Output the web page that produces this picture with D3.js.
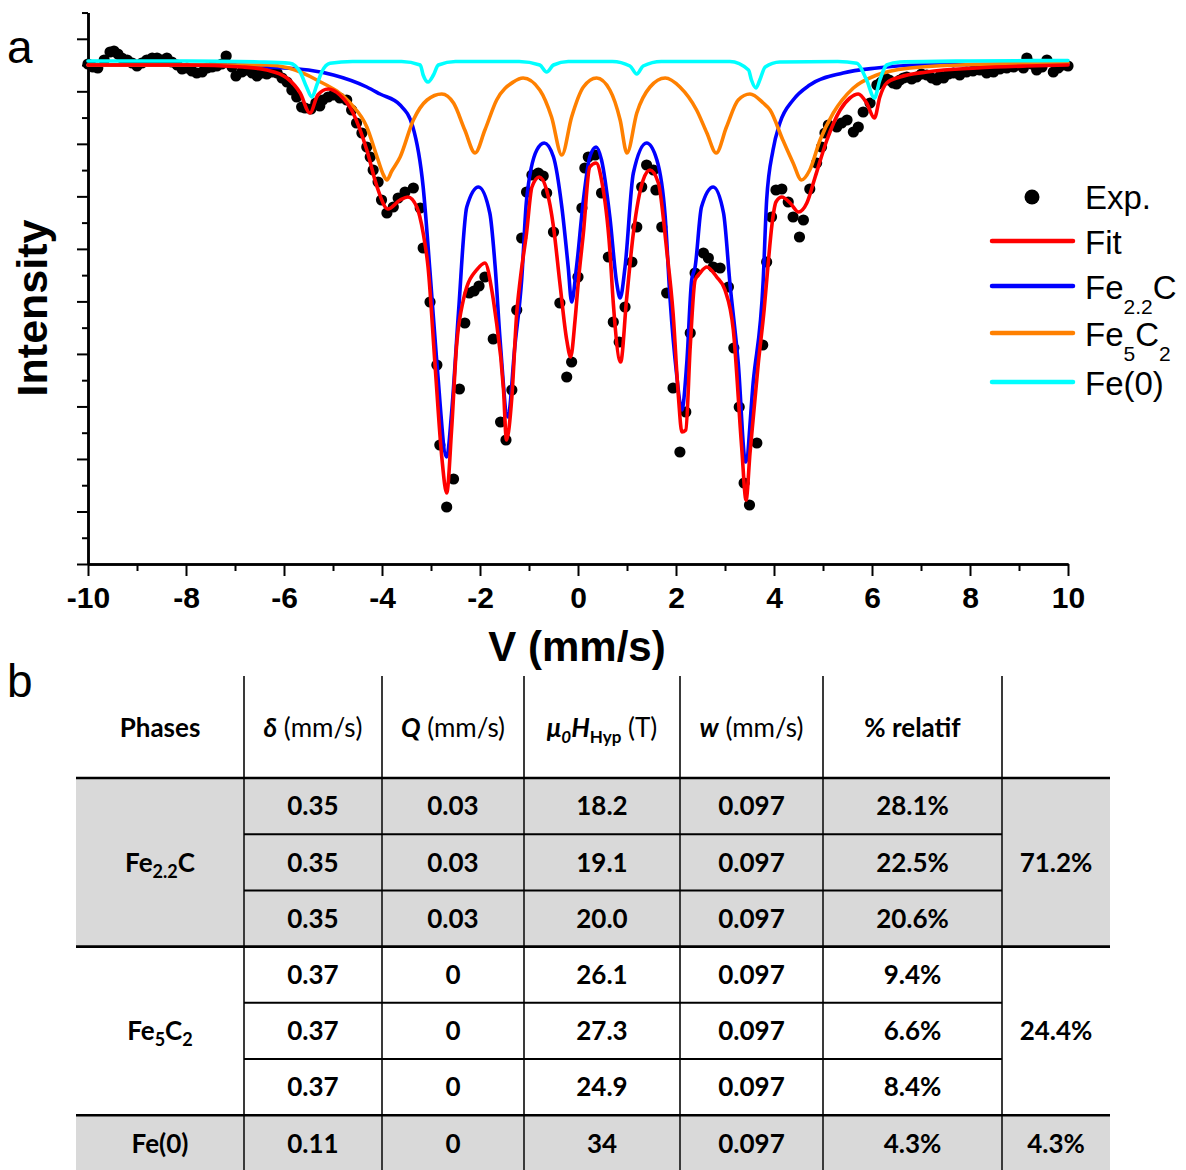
<!DOCTYPE html>
<html><head><meta charset="utf-8">
<script src="https://cdn.jsdelivr.net/npm/d3@7"></script>
<style>body{margin:0;background:#fff}svg{display:block}</style>
</head><body><svg id="c" width="1186" height="1170"></svg>
<script>
// ---------- DATA (velocity mm/s, intensity a.u.) ----------
const expData = [[-10.00,500],[-9.90,497],[-9.80,496],[-9.67,504],[-9.55,512],[-9.47,513],[-9.39,510],[-9.31,506],[-9.20,504],[-9.10,501],[-9.00,498],[-8.90,501],[-8.80,504],[-8.69,506],[-8.59,506],[-8.49,504],[-8.39,506],[-8.29,502],[-8.18,499],[-8.08,495],[-7.98,496],[-7.88,493],[-7.78,491],[-7.67,492],[-7.57,496],[-7.47,497],[-7.37,498],[-7.27,500],[-7.18,508],[-7.06,497],[-6.98,488],[-6.86,492],[-6.76,494],[-6.65,491],[-6.55,488],[-6.45,491],[-6.35,490],[-6.24,492],[-6.14,491],[-6.04,486],[-5.94,482],[-5.84,474],[-5.74,467],[-5.64,457],[-5.57,456],[-5.45,455],[-5.35,461],[-5.27,458],[-5.21,464],[-5.10,467],[-4.99,469],[-4.86,466],[-4.72,464],[-4.62,454],[-4.52,441],[-4.41,431],[-4.31,417],[-4.24,407],[-4.18,394],[-4.08,382],[-4.01,364],[-3.90,351],[-3.77,357],[-3.67,366],[-3.53,372],[-3.36,376],[-3.22,356],[-3.16,316],[-3.02,262],[-2.88,199],[-2.82,119],[-2.68,57],[-2.54,85],[-2.42,175],[-2.31,241],[-2.22,271],[-2.12,273],[-2.02,278],[-1.90,287],[-1.73,225],[-1.58,142],[-1.47,124],[-1.35,174],[-1.25,254],[-1.15,326],[-1.05,372],[-0.94,389],[-0.81,391],[-0.71,388],[-0.64,371],[-0.50,332],[-0.37,261],[-0.23,187],[-0.13,202],[0.00,287],[0.08,356],[0.14,396],[0.21,407],[0.35,409],[0.48,371],[0.62,307],[0.72,242],[0.84,222],[0.96,257],[1.10,302],[1.20,337],[1.30,377],[1.40,399],[1.54,394],[1.59,374],[1.71,337],[1.81,271],[1.94,176],[2.08,112],[2.20,152],[2.29,231],[2.39,291],[2.56,311],[2.66,306],[2.76,297],[2.90,296],[3.07,277],[3.18,216],[3.29,157],[3.39,81],[3.50,59],[3.65,121],[3.77,219],[3.85,302],[3.95,347],[4.04,374],[4.16,375],[4.29,362],[4.39,347],[4.52,327],[4.60,344],[4.73,375],[4.87,401],[4.97,417],[5.04,431],[5.11,439],[5.28,437],[5.38,441],[5.49,444],[5.62,432],[5.72,437],[5.82,452],[5.96,461],[6.10,479],[6.19,482],[6.27,486],[6.35,484],[6.43,481],[6.50,480],[6.57,484],[6.64,486],[6.71,487],[6.81,485],[6.91,487],[7.01,490],[7.12,489],[7.22,486],[7.32,484],[7.39,488],[7.46,486],[7.56,490],[7.66,491],[7.79,489],[7.93,492],[8.06,493],[8.20,494],[8.34,491],[8.48,492],[8.61,495],[8.75,496],[8.89,497],[9.02,499],[9.09,496],[9.16,506],[9.26,500],[9.36,494],[9.47,497],[9.57,504],[9.70,492],[9.80,496],[9.90,499],[10.00,498]];

const fitData = [[-10,499],[-8,499],[-6.84,497],[-6.35,494],[-5.94,486],[-5.67,471],[-5.47,451],[-5.31,469],[-5.10,475],[-4.86,469],[-4.59,451],[-4.31,414],[-4.10,377],[-3.88,355],[-3.63,364],[-3.47,367],[-3.29,357],[-3.16,331],[-3.06,297],[-2.92,201],[-2.78,107],[-2.68,71],[-2.58,134],[-2.48,217],[-2.34,264],[-2.27,277],[-2.07,294],[-1.90,301],[-1.76,274],[-1.69,251],[-1.52,174],[-1.46,124],[-1.35,167],[-1.25,251],[-1.18,284],[-1.05,331],[-0.94,377],[-0.79,387],[-0.64,374],[-0.50,337],[-0.37,281],[-0.23,224],[-0.15,207],[-0.06,244],[0.01,284],[0.11,331],[0.24,397],[0.37,401],[0.48,384],[0.65,314],[0.72,261],[0.87,202],[0.99,264],[1.13,331],[1.33,384],[1.47,394],[1.64,381],[1.81,314],[1.94,251],[2.05,167],[2.12,132],[2.20,134],[2.29,217],[2.39,284],[2.49,291],[2.63,297],[2.83,287],[3.00,274],[3.17,234],[3.34,117],[3.43,64],[3.51,111],[3.68,201],[3.80,255],[3.88,300],[3.96,340],[4.04,362],[4.16,367],[4.33,361],[4.50,352],[4.67,361],[4.84,387],[5.08,424],[5.35,454],[5.55,466],[5.72,470],[5.89,461],[6.05,446],[6.16,467],[6.30,481],[6.57,487],[7.12,492],[8.14,496],[9.16,498],[10,499]];

const fe22cData = [[-10,499],[-7,499],[-6.35,497],[-5.5,494],[-4.99,489],[-4.31,477],[-4.04,470],[-3.63,459],[-3.37,437],[-3.16,377],[-3.02,292],[-2.88,201],[-2.68,107],[-2.58,151],[-2.44,251],[-2.27,357],[-2.03,377],[-1.80,351],[-1.69,297],[-1.59,224],[-1.43,147],[-1.29,217],[-1.15,284],[-1.05,364],[-0.84,414],[-0.69,421],[-0.50,407],[-0.33,357],[-0.20,297],[-0.13,262],[-0.03,297],[0.11,364],[0.24,407],[0.37,417],[0.48,404],[0.65,347],[0.79,281],[0.86,266],[0.96,297],[1.13,391],[1.40,421],[1.61,404],[1.78,347],[1.88,264],[2.01,191],[2.12,154],[2.22,201],[2.32,284],[2.39,297],[2.52,357],[2.76,377],[2.97,351],[3.10,281],[3.27,201],[3.42,102],[3.58,184],[3.78,284],[3.85,364],[3.98,414],[4.12,441],[4.39,464],[4.73,479],[5.41,491],[6.10,496],[6.98,499],[10,500]];

const fe5c2Data = [[-10,499],[-7,499],[-6.35,499],[-5.90,496],[-5.33,484],[-4.65,461],[-4.31,437],[-4.10,407],[-3.96,388],[-3.90,384],[-3.80,393],[-3.63,407],[-3.36,444],[-3.08,464],[-2.78,470],[-2.54,461],[-2.31,434],[-2.10,411],[-1.90,434],[-1.66,464],[-1.32,482],[-1.12,486],[-0.78,474],[-0.54,447],[-0.33,409],[-0.13,447],[0.11,477],[0.38,486],[0.65,474],[0.86,444],[1.00,411],[1.20,451],[1.47,477],[1.78,486],[2.08,477],[2.42,454],[2.63,431],[2.82,411],[3.03,437],[3.27,464],[3.51,470],[3.78,461],[3.92,454],[4.18,424],[4.39,401],[4.56,384],[4.73,394],[4.94,424],[5.21,451],[5.62,476],[6.10,489],[6.78,496],[7.80,499],[10,501]];

const fe0Data = [[-10,503],[-8,503],[-6.5,502],[-5.88,500.7],[-5.67,492],[-5.54,477],[-5.43,467],[-5.33,479],[-5.23,492],[-5.06,500.7],[-4.6,502.5],[-3.6,502.5],[-3.22,499],[-3.16,489],[-3.06,482],[-2.95,489],[-2.85,499],[-2.5,502.5],[-1.2,502.5],[-0.78,499],[-0.64,492],[-0.50,499],[-0.2,502.5],[0.7,502.5],[1.06,498],[1.20,490],[1.33,498],[1.7,502.5],[3.1,502.5],[3.48,494],[3.54,484],[3.63,476],[3.71,484],[3.82,497],[4.12,502],[5.3,502.5],[5.69,500.7],[5.89,484],[6.05,466],[6.16,484],[6.30,499],[6.57,502],[8,503],[10,503.5]];

const xMajorTicks = [-10,-8,-6,-4,-2,0,2,4,6,8,10];
const xMinorTicks = [-9,-7,-5,-3,-1,1,3,5,7,9];

const legendLabels = ["Exp.","Fit","Fe2.2C","Fe5C2","Fe(0)"];
const seriesColors = {fit:"#ff0000", fe22c:"#0000ff", fe5c2:"#ff8000", fe0:"#00ffff"};

// table
const tablePhases = ["Fe2.2C","Fe5C2","Fe(0)"];
const tableDelta = ["0.35","0.35","0.35","0.37","0.37","0.37","0.11"];
const tableQ = ["0.03","0.03","0.03","0","0","0","0"];
const tableH = ["18.2","19.1","20.0","26.1","27.3","24.9","34"];
const tableW = ["0.097","0.097","0.097","0.097","0.097","0.097","0.097"];
const tableRel = ["28.1%","22.5%","20.6%","9.4%","6.6%","8.4%","4.3%"];
const tableTotal = ["71.2%","24.4%","4.3%"];

// ---------- DRAW ----------
const svg = d3.select("#c");
const AF = "'Liberation Sans', Arial, sans-serif";
const TF = "Lato, 'Open Sans', sans-serif";

const x = d3.scaleLinear().domain([-10,10]).range([88,1068]);
const y = d3.scaleLinear().domain([0,551.5]).range([564,12.5]);
const yStep = 26.26;
const yTicks = d3.range(0,22).map(k=>k*yStep);

// y axis
const gy = svg.append("g").attr("transform","translate(88,0)");
gy.call(d3.axisLeft(y).tickValues(yTicks.filter((d,i)=>i%2===1)).tickSize(6).tickSizeOuter(0).tickFormat(""));
gy.append("g").call(d3.axisLeft(y).tickValues(yTicks.filter((d,i)=>i%2===0)).tickSize(11).tickSizeOuter(0).tickFormat(""));
gy.selectAll("path.domain").attr("stroke","#000").attr("stroke-width",2.5);
gy.selectAll(".tick line").attr("stroke","#000").attr("stroke-width",2);

// x axis
const gx = svg.append("g").attr("transform","translate(0,564)");
gx.call(d3.axisBottom(x).tickValues(xMinorTicks).tickSize(7).tickSizeOuter(0).tickFormat(""));
const gx2 = gx.append("g").call(d3.axisBottom(x).tickValues(xMajorTicks).tickSize(12).tickSizeOuter(0).tickPadding(11).tickFormat(d=>String(d)));
gx.selectAll("path.domain").attr("stroke","#000").attr("stroke-width",2.5);
gx.selectAll(".tick line").attr("stroke","#000").attr("stroke-width",2);
gx2.selectAll("text").attr("font-family",AF).attr("font-weight","bold").attr("font-size",30).attr("fill","#000");

// data
const line = d3.line().x(d=>x(d[0])).y(d=>y(d[1])).curve(d3.curveMonotoneX);
svg.append("g").selectAll("circle").data(expData).join("circle")
  .attr("cx",d=>x(d[0])).attr("cy",d=>y(d[1])).attr("r",5.6).attr("fill","#000");
[[fe22cData,seriesColors.fe22c],[fe5c2Data,seriesColors.fe5c2],[fe0Data,seriesColors.fe0],[fitData,seriesColors.fit]].forEach(([d,c])=>{
  svg.append("path").datum(d).attr("d",line).attr("fill","none").attr("stroke",c)
    .attr("stroke-width",3.6).attr("stroke-linejoin","round").attr("stroke-linecap","round");
});

// axis titles
svg.append("text").attr("x",577).attr("y",661).attr("text-anchor","middle")
  .attr("font-family",AF).attr("font-weight","bold").attr("font-size",42).text("V (mm/s)");
svg.append("text").attr("transform","translate(47,308) rotate(-90)").attr("text-anchor","middle")
  .attr("font-family",AF).attr("font-weight","bold").attr("font-size",43).text("Intensity");
svg.append("text").attr("x",7).attr("y",63).attr("font-family",AF).attr("font-size",46).text("a");
svg.append("text").attr("x",7).attr("y",697).attr("font-family",AF).attr("font-size",46).text("b");

// legend
const lg = svg.append("g").attr("font-family",AF).attr("font-size",33).attr("fill","#000");
lg.append("circle").attr("cx",1032).attr("cy",197).attr("r",7.5).attr("fill","#000");
lg.append("text").attr("x",1085).attr("y",208.5).text(legendLabels[0]);
const legendRows = [[241,seriesColors.fit],[286,seriesColors.fe22c],[333,seriesColors.fe5c2],[382,seriesColors.fe0]];
legendRows.forEach(([ly,c])=>{
  lg.append("line").attr("x1",992).attr("x2",1073).attr("y1",ly).attr("y2",ly)
    .attr("stroke",c).attr("stroke-width",4.5).attr("stroke-linecap","round");
});
lg.append("text").attr("x",1085).attr("y",253.5).text(legendLabels[1]);
{ const t = lg.append("text").attr("x",1085).attr("y",298.5);
  t.append("tspan").text("Fe");
  t.append("tspan").attr("font-size",21).attr("dy",15).text("2.2");
  t.append("tspan").attr("dy",-15).text("C"); }
{ const t = lg.append("text").attr("x",1085).attr("y",345.5);
  t.append("tspan").text("Fe");
  t.append("tspan").attr("font-size",21).attr("dy",15).text("5");
  t.append("tspan").attr("dy",-15).text("C");
  t.append("tspan").attr("font-size",21).attr("dy",15).text("2"); }
lg.append("text").attr("x",1085).attr("y",394.5).text(legendLabels[4]);

// ---------- TABLE ----------
const colX = [76,244,382,524,680,823,1002,1110];
const headTop = 676, headBot = 778, rowH = 56.2;
const rowTop = i => headBot + i*rowH;
const tb = svg.append("g");
tb.append("rect").attr("x",colX[0]).attr("y",rowTop(0)).attr("width",colX[7]-colX[0]).attr("height",3*rowH).attr("fill","#d9d9d9");
tb.append("rect").attr("x",colX[0]).attr("y",rowTop(6)).attr("width",colX[7]-colX[0]).attr("height",rowH+5).attr("fill","#d9d9d9");
colX.slice(1,7).forEach(cx=>{
  tb.append("line").attr("x1",cx).attr("x2",cx).attr("y1",headTop).attr("y2",1172).attr("stroke","#3a3a3a").attr("stroke-width",2);
});
[headBot, rowTop(3), rowTop(6)].forEach(yy=>{
  tb.append("line").attr("x1",colX[0]).attr("x2",colX[7]).attr("y1",yy).attr("y2",yy).attr("stroke","#000").attr("stroke-width",2.6);
});
[1,2,4,5].forEach(i=>{
  tb.append("line").attr("x1",colX[1]).attr("x2",colX[6]).attr("y1",rowTop(i)).attr("y2",rowTop(i)).attr("stroke","#000").attr("stroke-width",2);
});
const FS = 26;
const cc = i => (colX[i]+colX[i+1])/2;
const tText = (cx, cy) => tb.append("text").attr("x",cx).attr("y",cy+FS*0.36).attr("text-anchor","middle")
  .attr("font-family",TF).attr("font-size",FS).attr("font-weight","bold").attr("fill","#000");
const hy = 728;
tText(cc(0),hy).text("Phases");
{ const t=tText(cc(1),hy); t.append("tspan").attr("font-style","italic").text("δ"); t.append("tspan").attr("font-weight","normal").text(" (mm/s)"); }
{ const t=tText(cc(2),hy); t.append("tspan").attr("font-style","italic").text("Q"); t.append("tspan").attr("font-weight","normal").text(" (mm/s)"); }
{ const t=tText(cc(3),hy); t.append("tspan").attr("font-style","italic").text("μ");
  t.append("tspan").attr("font-style","italic").attr("font-size",17).attr("dy",6).text("0");
  t.append("tspan").attr("font-style","italic").attr("dy",-6).text("H");
  t.append("tspan").attr("font-size",17).attr("dy",6).text("Hyp");
  t.append("tspan").attr("font-weight","normal").attr("dy",-6).text(" (T)"); }
{ const t=tText(cc(4),hy); t.append("tspan").attr("font-style","italic").text("w"); t.append("tspan").attr("font-weight","normal").text(" (mm/s)"); }
tText(cc(5),hy).text("% relatif");
const cols = [tableDelta,tableQ,tableH,tableW,tableRel];
for(let i=0;i<7;i++){
  const cy = rowTop(i)+rowH/2;
  cols.forEach((arr,j)=> tText(cc(j+1),cy).text(arr[i]));
}
const groupCenters = [rowTop(0)+1.5*rowH, rowTop(3)+1.5*rowH, rowTop(6)+rowH/2];
{ const t=tText(cc(0),groupCenters[0]); t.append("tspan").text("Fe"); t.append("tspan").attr("font-size",18).attr("dy",6).text("2.2"); t.append("tspan").attr("dy",-6).text("C"); }
{ const t=tText(cc(0),groupCenters[1]); t.append("tspan").text("Fe"); t.append("tspan").attr("font-size",18).attr("dy",6).text("5"); t.append("tspan").attr("dy",-6).text("C"); t.append("tspan").attr("font-size",18).attr("dy",6).text("2"); }
tText(cc(0),groupCenters[2]).text(tablePhases[2]);
tableTotal.forEach((v,i)=> tText(cc(6),groupCenters[i]).text(v));
</script></body></html>
